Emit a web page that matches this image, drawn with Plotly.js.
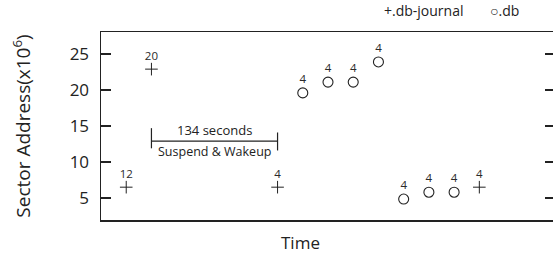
<!DOCTYPE html>
<html>
<head>
<meta charset="utf-8">
<script src="https://cdn.plot.ly/plotly-3.0.1.min.js"></script>
<style>
html,body{margin:0;padding:0;overflow:hidden;background:#fff;}
#chart{width:560px;height:258px;}
</style>
</head>
<body>
<div id="chart"></div>
<script>
// Time slot (x), sector address in millions (y), request counts (labels)
var journalTime = [1, 2, 7, 15];
var journalAddr = [6.5, 22.9, 6.5, 6.5];
var journalCount = ['12', '20', '4', '4'];

var dbTime = [8, 9, 10, 11, 12, 13, 14];
var dbAddr = [19.6, 21.1, 21.1, 23.9, 4.85, 5.8, 5.8];
var dbCount = ['4', '4', '4', '4', '4', '4', '4'];

var yTicks = [5, 10, 15, 20, 25];
var suspendStart = 2, suspendEnd = 7, suspendLevel = 12.9;

var FONT = 'Open Sans, sans-serif';
var INK = '#222';

var traces = [
  {
    x: journalTime, y: journalAddr, text: journalCount,
    type: 'scatter', mode: 'markers+text', name: '.db-journal',
    marker: {symbol: 'cross-thin-open', size: 9, color: INK, line: {width: 1, color: INK}},
    textposition: 'top center',
    textfont: {family: FONT, size: 11.5, color: '#2a2a2a'},
    cliponaxis: false
  },
  {
    x: dbTime, y: dbAddr, text: dbCount,
    type: 'scatter', mode: 'markers+text', name: '.db',
    marker: {symbol: 'circle-open', size: 10, color: INK, line: {width: 1.1, color: INK}},
    textposition: 'top center',
    textfont: {family: FONT, size: 11.5, color: '#2a2a2a'},
    cliponaxis: false
  }
];

var layout = {
  width: 560, height: 258,
  margin: {l: 101, r: 5, t: 32, b: 38},
  paper_bgcolor: '#fff', plot_bgcolor: '#fff',
  showlegend: false,
  font: {family: FONT, color: INK},
  xaxis: {
    range: [0, 18], showticklabels: false, ticks: '', showgrid: false, zeroline: false,
    showline: true, mirror: true, linecolor: INK, linewidth: 1.5
  },
  yaxis: {
    range: [1.94, 28.06], tickvals: yTicks, ticks: 'inside', ticklen: 10, tickwidth: 1.2,
    tickcolor: INK, mirror: 'allticks', showline: true, linecolor: INK, linewidth: 1.5,
    showgrid: false, zeroline: false, ticklabelstandoff: 7,
    tickfont: {family: FONT, size: 17, color: INK},
    title: {text: 'Sector Address(x10<sup>6</sup>)', font: {family: FONT, size: 19, color: INK}, standoff: 34}
  },
  shapes: [
    {type: 'line', xref: 'x', yref: 'y', x0: suspendStart, x1: suspendEnd, y0: suspendLevel, y1: suspendLevel, line: {color: INK, width: 1.2}},
    {type: 'line', xref: 'x', yref: 'y', x0: suspendStart, x1: suspendStart, y0: suspendLevel - 1, y1: suspendLevel + 1.8, line: {color: INK, width: 1.2}},
    {type: 'line', xref: 'x', yref: 'y', x0: suspendEnd, x1: suspendEnd, y0: suspendLevel - 1.3, y1: suspendLevel + 1.2, line: {color: INK, width: 1.2}}
  ],
  annotations: [
    {xref: 'x', yref: 'y', x: (suspendStart + suspendEnd) / 2, y: suspendLevel, yanchor: 'bottom', yshift: 0,
     text: '134 seconds', showarrow: false, font: {family: FONT, size: 13, color: INK}},
    {xref: 'x', yref: 'y', x: (suspendStart + suspendEnd) / 2, y: suspendLevel, yanchor: 'top', yshift: 0,
     text: 'Suspend & Wakeup', showarrow: false, font: {family: FONT, size: 12.5, color: INK}},
    {xref: 'paper', yref: 'paper', x: 0.44, y: 0, yanchor: 'top', yshift: -9,
     text: 'Time', showarrow: false, font: {family: FONT, size: 17, color: INK}},
    {xref: 'paper', yref: 'paper', x: 0.62, y: 1, xanchor: 'left', yanchor: 'bottom', yshift: 10,
     text: '+.db-journal', showarrow: false, font: {family: FONT, size: 14, color: INK}},
    {xref: 'paper', yref: 'paper', x: 0.853, y: 1, xanchor: 'left', yanchor: 'bottom', yshift: 10,
     text: '○.db', showarrow: false, font: {family: FONT, size: 14, color: INK}}
  ]
};

Plotly.newPlot('chart', traces, layout, {displayModeBar: false, staticPlot: true});
</script>
</body>
</html>
